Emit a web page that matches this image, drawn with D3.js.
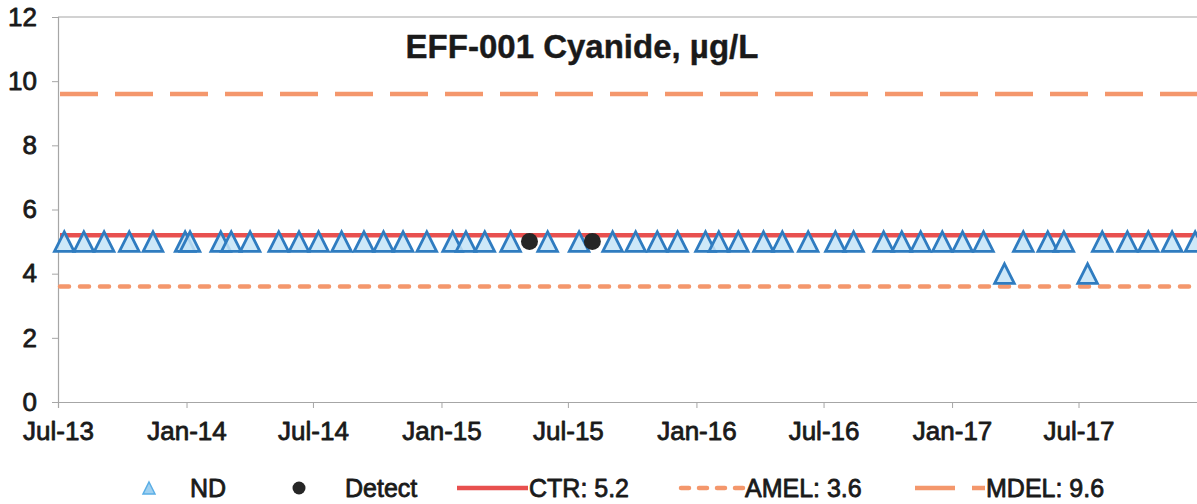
<!DOCTYPE html>
<html>
<head>
<meta charset="utf-8">
<script src="https://cdn.jsdelivr.net/npm/d3@7/dist/d3.min.js"></script>
<style>
  html, body { margin: 0; padding: 0; background: #fff; }
  svg { display: block; font-family: "Liberation Sans", Arial, sans-serif; }
</style>
</head>
<body>
<svg id="chart" width="1197" height="504"></svg>
<script>
// ---------- DATA ----------
const chartTitle = "EFF-001 Cyanide, \u00b5g/L";
const ndDates = [
  "2013-07-10","2013-08-07","2013-09-05","2013-10-11","2013-11-14","2013-12-30",
  "2014-01-06","2014-02-19","2014-03-06","2014-04-02","2014-05-13","2014-06-11",
  "2014-07-09","2014-08-11","2014-09-12","2014-10-10","2014-11-07","2014-12-11",
  "2015-01-17","2015-02-05","2015-03-04","2015-04-10","2015-06-02","2015-07-17",
  "2015-09-03","2015-10-06","2015-11-06","2015-12-05","2016-01-14","2016-02-02",
  "2016-03-01","2016-04-06","2016-05-03","2016-06-09","2016-07-18","2016-08-13",
  "2016-09-25","2016-10-21","2016-11-17","2016-12-18","2017-01-16","2017-02-15",
  "2017-03-17","2017-04-13","2017-05-18","2017-06-10","2017-07-14","2017-08-04",
  "2017-09-09","2017-10-09","2017-11-12","2017-12-15"
];
const ndValues = [
  5,5,5,5,5,5,
  5,5,5,5,5,5,
  5,5,5,5,5,5,
  5,5,5,5,5,5,
  5,5,5,5,5,5,
  5,5,5,5,5,5,
  5,5,5,5,5,5,
  4,5,5,5,4,5,
  5,5,5,5
];
const detectDates = ["2015-05-07","2015-08-05"];
const detectValues = [5, 5];
const ctrValue = 5.2;
const amelValue = 3.6;
const mdelValue = 9.6;
const xTickDates = ["2013-07-01","2014-01-01","2014-07-01","2015-01-01","2015-07-01",
                    "2016-01-01","2016-07-01","2017-01-01","2017-07-01"];
const xTickLabels = ["Jul-13","Jan-14","Jul-14","Jan-15","Jul-15","Jan-16","Jul-16","Jan-17","Jul-17"];
const yTicks = [0, 2, 4, 6, 8, 10, 12];
const legendLabels = ["ND", "Detect", "CTR: 5.2", "AMEL: 3.6", "MDEL: 9.6"];

// ---------- SETUP ----------
const parse = d3.utcParse("%Y-%m-%d");
const svg = d3.select("#chart");
const W = 1197, H = 504;
svg.append("rect").attr("width", W).attr("height", H).attr("fill", "#fff");

const mL = 58, mT = 17, mB = 402;
const x = d3.scaleUtc()
  .domain([parse("2013-07-01"), parse("2018-01-01")])
  .range([mL, mL + 1645 * (1020.5 / 1461)]);
const y = d3.scaleLinear().domain([0, 12]).range([mB, mT]);
const xEnd = x.range()[1];

const axisColor = "#a6a6a6";
const textColor = "#1a1a1a";
const orange = "#f4976c";
const red = "#e8504f";

function heavy(sel, w) {
  sel.attr("fill", textColor).attr("stroke", textColor).attr("stroke-width", w)
     .attr("stroke-linejoin", "round");
}

// plot border (top)
svg.append("line").attr("x1", mL).attr("x2", xEnd).attr("y1", mT).attr("y2", mT)
  .attr("stroke", axisColor).attr("stroke-width", 1.2);

// Y axis
const yAxis = d3.axisLeft(y).tickValues(yTicks).tickSize(6).tickPadding(15).tickFormat(d3.format("d"));
const gy = svg.append("g").attr("transform", `translate(${mL},0)`).call(yAxis);
gy.select(".domain").attr("stroke", axisColor).attr("stroke-width", 1.2);
gy.selectAll(".tick line").attr("stroke", axisColor);
gy.selectAll(".tick text").attr("font-size", 26)
  .attr("font-family", "Liberation Sans, Arial, sans-serif").call(heavy, 0.8);

// X axis
const xAxis = d3.axisBottom(x).tickValues(xTickDates.map(parse)).tickSize(6).tickPadding(14)
  .tickFormat((d, i) => xTickLabels[i]);
const gx = svg.append("g").attr("transform", `translate(0,${mB})`).call(xAxis);
gx.select(".domain").attr("stroke", axisColor).attr("stroke-width", 1.2);
gx.selectAll(".tick line").attr("stroke", axisColor);
gx.selectAll(".tick text").attr("font-size", 26)
  .attr("font-family", "Liberation Sans, Arial, sans-serif").call(heavy, 0.8);

// Limit lines
const limitLines = [
  { v: mdelValue, color: orange, dash: "38,17", cap: "butt" },
  { v: amelValue, color: orange, dash: "9,11", cap: "round" },
  { v: ctrValue, color: red, dash: null, cap: "butt" }
];
limitLines.forEach(l => {
  svg.append("line")
    .attr("x1", mL + 2).attr("x2", xEnd)
    .attr("y1", y(l.v)).attr("y2", y(l.v))
    .attr("stroke", l.color).attr("stroke-width", 4.5)
    .attr("stroke-linecap", l.cap)
    .attr("stroke-dasharray", l.dash);
});

// Triangle symbol
function tri(cx, cy, h) {
  return `M${cx},${cy - h}L${cx + h},${cy + h}L${cx - h},${cy + h}Z`;
}

// ND markers
const ndData = ndDates.map((d, i) => ({ date: parse(d), value: ndValues[i] }));
svg.append("g").selectAll("path").data(ndData).join("path")
  .attr("d", d => tri(x(d.date), y(d.value), 9.8))
  .attr("fill", "#c4e4f7").attr("fill-opacity", 0.85)
  .attr("stroke", "#2f7cc0").attr("stroke-width", 2.8)
  .attr("stroke-linejoin", "miter");

// Detect markers
const detData = detectDates.map((d, i) => ({ date: parse(d), value: detectValues[i] }));
svg.append("g").selectAll("circle").data(detData).join("circle")
  .attr("cx", d => x(d.date)).attr("cy", d => y(d.value)).attr("r", 8.5)
  .attr("fill", "#262626");

// Title
svg.append("text").attr("x", 582).attr("y", 58).attr("text-anchor", "middle")
  .attr("font-size", 33).attr("font-weight", "bold")
  .call(heavy, 0.4)
  .text(chartTitle);

// Legend
const ly = 488;
const lg = svg.append("g").attr("font-size", 25);
lg.append("path").attr("d", tri(149, ly, 6)).attr("fill", "#9fd0f0").attr("stroke", "#5aaee6").attr("stroke-width", 1.5);
lg.append("text").attr("x", 190).attr("y", ly + 9).call(heavy, 0.8).text(legendLabels[0]);
lg.append("circle").attr("cx", 299).attr("cy", ly).attr("r", 6.5).attr("fill", "#262626");
lg.append("text").attr("x", 345).attr("y", ly + 9).call(heavy, 0.8).text(legendLabels[1]);
lg.append("line").attr("x1", 457).attr("x2", 528).attr("y1", ly).attr("y2", ly)
  .attr("stroke", red).attr("stroke-width", 4.5);
lg.append("text").attr("x", 529).attr("y", ly + 9).call(heavy, 0.8).text(legendLabels[2]);
lg.append("line").attr("x1", 681).attr("x2", 744).attr("y1", ly).attr("y2", ly)
  .attr("stroke", orange).attr("stroke-width", 4.5).attr("stroke-dasharray", "8,10")
  .attr("stroke-linecap", "round");
lg.append("text").attr("x", 745).attr("y", ly + 9).call(heavy, 0.8).text(legendLabels[3]);
lg.append("line").attr("x1", 915).attr("x2", 985).attr("y1", ly).attr("y2", ly)
  .attr("stroke", orange).attr("stroke-width", 4.5).attr("stroke-dasharray", "40,17");
lg.append("text").attr("x", 986).attr("y", ly + 9).call(heavy, 0.8).text(legendLabels[4]);
</script>
</body>
</html>
